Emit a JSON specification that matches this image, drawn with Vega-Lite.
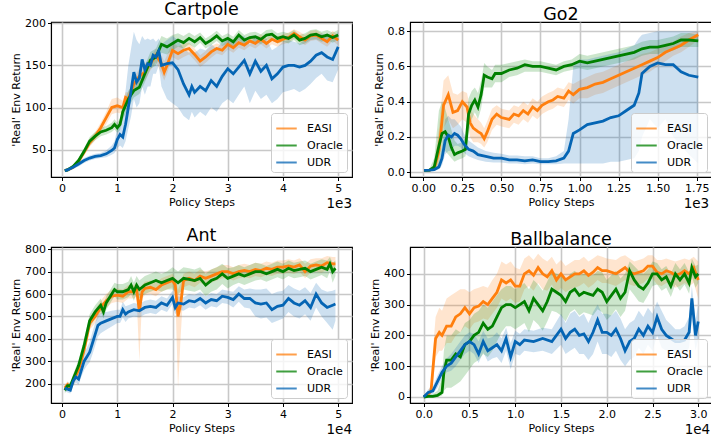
{
"$schema": "https://vega.github.io/schema/vega-lite/v6.json",
"padding": {"left": 9, "top": 0, "right": 0, "bottom": 0},
"config": {
  "font": "DejaVu Sans",
  "view": {"stroke": "black", "strokeWidth": 1.1},
  "axis": {"grid": true, "gridColor": "#c8c8c8", "gridWidth": 1.6, "domainColor": "black", "domainWidth": 1.1, "tickColor": "black", "tickSize": 3.5, "labelFontSize": 11, "labelColor": "black", "labelPadding": 2, "labelOverlap": false, "titleFontSize": 11, "titleFontWeight": "normal", "titleColor": "black", "titlePadding": 3},
  "legend": {"orient": "bottom-right", "offset": 5, "symbolType": "stroke", "symbolSize": 420, "symbolStrokeWidth": 2, "labelFontSize": 11, "labelColor": "black", "labelOffset": 9, "rowPadding": -4.5, "padding": 4, "strokeColor": "#cccccc", "fillColor": "rgba(255,255,255,0.8)", "cornerRadius": 3},
  "title": {"fontSize": 17.5, "fontWeight": "normal", "color": "black", "offset": -1}
},
"datasets": {
"t3": [{"t": "1e3"}],
"t4": [{"t": "1e4"}],
"cart": [
{"m":"EASI","x":0.05,"y":25,"lo":23,"hi":27},{"m":"EASI","x":0.1,"y":26,"lo":24,"hi":28},{"m":"EASI","x":0.2,"y":29,"lo":27,"hi":31},{"m":"EASI","x":0.3,"y":36,"lo":33,"hi":39},{"m":"EASI","x":0.4,"y":47,"lo":43,"hi":51},{"m":"EASI","x":0.5,"y":58,"lo":53,"hi":63},{"m":"EASI","x":0.6,"y":66,"lo":61,"hi":71},{"m":"EASI","x":0.7,"y":76,"lo":70,"hi":82},{"m":"EASI","x":0.8,"y":88,"lo":80,"hi":95},{"m":"EASI","x":0.9,"y":100,"lo":92,"hi":110},{"m":"EASI","x":1.0,"y":102,"lo":94,"hi":112},{"m":"EASI","x":1.1,"y":100,"lo":92,"hi":108},{"m":"EASI","x":1.15,"y":112,"lo":104,"hi":118},{"m":"EASI","x":1.2,"y":110,"lo":102,"hi":118},{"m":"EASI","x":1.3,"y":128,"lo":120,"hi":136},{"m":"EASI","x":1.4,"y":137,"lo":128,"hi":146},{"m":"EASI","x":1.5,"y":142,"lo":132,"hi":152},{"m":"EASI","x":1.6,"y":152,"lo":144,"hi":160},{"m":"EASI","x":1.7,"y":162,"lo":154,"hi":170},{"m":"EASI","x":1.8,"y":152,"lo":140,"hi":162},{"m":"EASI","x":1.85,"y":142,"lo":132,"hi":155},{"m":"EASI","x":1.9,"y":150,"lo":140,"hi":162},{"m":"EASI","x":2.0,"y":168,"lo":160,"hi":178},{"m":"EASI","x":2.1,"y":164,"lo":156,"hi":172},{"m":"EASI","x":2.2,"y":168,"lo":160,"hi":176},{"m":"EASI","x":2.3,"y":170,"lo":163,"hi":177},{"m":"EASI","x":2.4,"y":163,"lo":156,"hi":170},{"m":"EASI","x":2.5,"y":155,"lo":148,"hi":162},{"m":"EASI","x":2.6,"y":160,"lo":153,"hi":167},{"m":"EASI","x":2.7,"y":166,"lo":159,"hi":173},{"m":"EASI","x":2.8,"y":170,"lo":164,"hi":176},{"m":"EASI","x":2.9,"y":168,"lo":162,"hi":174},{"m":"EASI","x":3.0,"y":175,"lo":169,"hi":181},{"m":"EASI","x":3.1,"y":171,"lo":165,"hi":177},{"m":"EASI","x":3.2,"y":177,"lo":171,"hi":183},{"m":"EASI","x":3.3,"y":174,"lo":168,"hi":180},{"m":"EASI","x":3.4,"y":179,"lo":173,"hi":185},{"m":"EASI","x":3.5,"y":176,"lo":170,"hi":182},{"m":"EASI","x":3.6,"y":181,"lo":175,"hi":187},{"m":"EASI","x":3.7,"y":176,"lo":170,"hi":182},{"m":"EASI","x":3.8,"y":181,"lo":175,"hi":187},{"m":"EASI","x":3.9,"y":178,"lo":172,"hi":184},{"m":"EASI","x":4.0,"y":181,"lo":175,"hi":187},{"m":"EASI","x":4.1,"y":183,"lo":177,"hi":189},{"m":"EASI","x":4.2,"y":188,"lo":182,"hi":193},{"m":"EASI","x":4.3,"y":184,"lo":178,"hi":190},{"m":"EASI","x":4.4,"y":180,"lo":174,"hi":186},{"m":"EASI","x":4.5,"y":185,"lo":179,"hi":191},{"m":"EASI","x":4.6,"y":186,"lo":180,"hi":192},{"m":"EASI","x":4.7,"y":182,"lo":176,"hi":188},{"m":"EASI","x":4.8,"y":178,"lo":172,"hi":184},{"m":"EASI","x":4.9,"y":185,"lo":179,"hi":191},{"m":"EASI","x":5.0,"y":180,"lo":174,"hi":186},
{"m":"Oracle","x":0.05,"y":25,"lo":23,"hi":27},{"m":"Oracle","x":0.1,"y":26,"lo":24,"hi":28},{"m":"Oracle","x":0.2,"y":30,"lo":28,"hi":32},{"m":"Oracle","x":0.3,"y":37,"lo":34,"hi":40},{"m":"Oracle","x":0.4,"y":48,"lo":44,"hi":52},{"m":"Oracle","x":0.5,"y":60,"lo":55,"hi":65},{"m":"Oracle","x":0.6,"y":66,"lo":61,"hi":71},{"m":"Oracle","x":0.7,"y":71,"lo":66,"hi":76},{"m":"Oracle","x":0.8,"y":73,"lo":68,"hi":78},{"m":"Oracle","x":0.9,"y":76,"lo":71,"hi":82},{"m":"Oracle","x":0.95,"y":80,"lo":74,"hi":86},{"m":"Oracle","x":1.0,"y":76,"lo":70,"hi":82},{"m":"Oracle","x":1.05,"y":80,"lo":73,"hi":87},{"m":"Oracle","x":1.1,"y":95,"lo":86,"hi":104},{"m":"Oracle","x":1.2,"y":110,"lo":100,"hi":120},{"m":"Oracle","x":1.3,"y":120,"lo":112,"hi":128},{"m":"Oracle","x":1.4,"y":124,"lo":116,"hi":132},{"m":"Oracle","x":1.5,"y":140,"lo":130,"hi":150},{"m":"Oracle","x":1.6,"y":156,"lo":146,"hi":166},{"m":"Oracle","x":1.7,"y":160,"lo":150,"hi":170},{"m":"Oracle","x":1.8,"y":175,"lo":165,"hi":185},{"m":"Oracle","x":1.9,"y":172,"lo":163,"hi":182},{"m":"Oracle","x":2.0,"y":176,"lo":168,"hi":186},{"m":"Oracle","x":2.1,"y":180,"lo":172,"hi":188},{"m":"Oracle","x":2.2,"y":177,"lo":170,"hi":185},{"m":"Oracle","x":2.3,"y":182,"lo":175,"hi":189},{"m":"Oracle","x":2.4,"y":178,"lo":171,"hi":185},{"m":"Oracle","x":2.5,"y":183,"lo":177,"hi":189},{"m":"Oracle","x":2.6,"y":176,"lo":170,"hi":182},{"m":"Oracle","x":2.7,"y":180,"lo":174,"hi":186},{"m":"Oracle","x":2.8,"y":185,"lo":179,"hi":191},{"m":"Oracle","x":2.9,"y":179,"lo":173,"hi":185},{"m":"Oracle","x":3.0,"y":182,"lo":176,"hi":188},{"m":"Oracle","x":3.1,"y":178,"lo":172,"hi":184},{"m":"Oracle","x":3.2,"y":186,"lo":180,"hi":192},{"m":"Oracle","x":3.3,"y":180,"lo":174,"hi":186},{"m":"Oracle","x":3.4,"y":183,"lo":177,"hi":189},{"m":"Oracle","x":3.5,"y":184,"lo":178,"hi":190},{"m":"Oracle","x":3.6,"y":181,"lo":175,"hi":187},{"m":"Oracle","x":3.7,"y":186,"lo":180,"hi":192},{"m":"Oracle","x":3.8,"y":187,"lo":181,"hi":193},{"m":"Oracle","x":3.9,"y":182,"lo":176,"hi":188},{"m":"Oracle","x":4.0,"y":184,"lo":178,"hi":190},{"m":"Oracle","x":4.1,"y":182,"lo":176,"hi":188},{"m":"Oracle","x":4.2,"y":186,"lo":180,"hi":192},{"m":"Oracle","x":4.3,"y":180,"lo":174,"hi":186},{"m":"Oracle","x":4.4,"y":182,"lo":176,"hi":188},{"m":"Oracle","x":4.5,"y":186,"lo":180,"hi":192},{"m":"Oracle","x":4.6,"y":187,"lo":181,"hi":193},{"m":"Oracle","x":4.7,"y":184,"lo":178,"hi":190},{"m":"Oracle","x":4.8,"y":186,"lo":180,"hi":192},{"m":"Oracle","x":4.9,"y":183,"lo":177,"hi":189},{"m":"Oracle","x":5.0,"y":186,"lo":180,"hi":192},
{"m":"UDR","x":0.05,"y":25,"lo":23,"hi":27},{"m":"UDR","x":0.1,"y":26,"lo":24,"hi":28},{"m":"UDR","x":0.2,"y":29,"lo":27,"hi":31},{"m":"UDR","x":0.3,"y":33,"lo":30,"hi":36},{"m":"UDR","x":0.4,"y":37,"lo":34,"hi":40},{"m":"UDR","x":0.5,"y":40,"lo":37,"hi":43},{"m":"UDR","x":0.6,"y":42,"lo":39,"hi":45},{"m":"UDR","x":0.7,"y":43,"lo":40,"hi":46},{"m":"UDR","x":0.8,"y":45,"lo":41,"hi":49},{"m":"UDR","x":0.9,"y":49,"lo":44,"hi":55},{"m":"UDR","x":0.95,"y":52,"lo":46,"hi":60},{"m":"UDR","x":1.0,"y":62,"lo":52,"hi":75},{"m":"UDR","x":1.05,"y":68,"lo":55,"hi":85},{"m":"UDR","x":1.1,"y":65,"lo":52,"hi":95},{"m":"UDR","x":1.15,"y":80,"lo":60,"hi":120},{"m":"UDR","x":1.2,"y":100,"lo":75,"hi":150},{"m":"UDR","x":1.25,"y":120,"lo":90,"hi":170},{"m":"UDR","x":1.3,"y":142,"lo":110,"hi":190},{"m":"UDR","x":1.35,"y":130,"lo":100,"hi":180},{"m":"UDR","x":1.4,"y":135,"lo":105,"hi":175},{"m":"UDR","x":1.45,"y":157,"lo":125,"hi":185},{"m":"UDR","x":1.5,"y":145,"lo":115,"hi":180},{"m":"UDR","x":1.55,"y":152,"lo":125,"hi":182},{"m":"UDR","x":1.6,"y":150,"lo":125,"hi":180},{"m":"UDR","x":1.65,"y":162,"lo":140,"hi":182},{"m":"UDR","x":1.7,"y":160,"lo":140,"hi":178},{"m":"UDR","x":1.75,"y":167,"lo":150,"hi":182},{"m":"UDR","x":1.8,"y":150,"lo":125,"hi":175},{"m":"UDR","x":1.9,"y":152,"lo":110,"hi":180},{"m":"UDR","x":2.0,"y":153,"lo":105,"hi":185},{"m":"UDR","x":2.1,"y":145,"lo":100,"hi":180},{"m":"UDR","x":2.2,"y":128,"lo":90,"hi":170},{"m":"UDR","x":2.3,"y":115,"lo":85,"hi":165},{"m":"UDR","x":2.35,"y":125,"lo":95,"hi":168},{"m":"UDR","x":2.4,"y":118,"lo":88,"hi":165},{"m":"UDR","x":2.5,"y":125,"lo":95,"hi":170},{"m":"UDR","x":2.6,"y":120,"lo":90,"hi":168},{"m":"UDR","x":2.7,"y":132,"lo":100,"hi":175},{"m":"UDR","x":2.8,"y":125,"lo":95,"hi":170},{"m":"UDR","x":2.9,"y":137,"lo":105,"hi":178},{"m":"UDR","x":3.0,"y":146,"lo":110,"hi":182},{"m":"UDR","x":3.1,"y":140,"lo":105,"hi":178},{"m":"UDR","x":3.2,"y":148,"lo":115,"hi":183},{"m":"UDR","x":3.3,"y":156,"lo":125,"hi":185},{"m":"UDR","x":3.4,"y":140,"lo":105,"hi":175},{"m":"UDR","x":3.5,"y":155,"lo":120,"hi":185},{"m":"UDR","x":3.6,"y":143,"lo":110,"hi":178},{"m":"UDR","x":3.7,"y":150,"lo":115,"hi":182},{"m":"UDR","x":3.8,"y":134,"lo":105,"hi":168},{"m":"UDR","x":3.9,"y":140,"lo":110,"hi":172},{"m":"UDR","x":4.0,"y":148,"lo":118,"hi":178},{"m":"UDR","x":4.1,"y":150,"lo":120,"hi":180},{"m":"UDR","x":4.2,"y":150,"lo":122,"hi":178},{"m":"UDR","x":4.3,"y":148,"lo":118,"hi":176},{"m":"UDR","x":4.4,"y":150,"lo":122,"hi":180},{"m":"UDR","x":4.5,"y":155,"lo":128,"hi":183},{"m":"UDR","x":4.6,"y":162,"lo":135,"hi":185},{"m":"UDR","x":4.7,"y":165,"lo":140,"hi":188},{"m":"UDR","x":4.8,"y":160,"lo":132,"hi":185},{"m":"UDR","x":4.9,"y":157,"lo":130,"hi":183},{"m":"UDR","x":5.0,"y":172,"lo":145,"hi":190}
],
"go2": [
{"m":"EASI","x":0.005,"y":0.01,"lo":0.005,"hi":0.015},{"m":"EASI","x":0.04,"y":0.012,"lo":0.005,"hi":0.02},{"m":"EASI","x":0.07,"y":0.02,"lo":0.01,"hi":0.04},{"m":"EASI","x":0.1,"y":0.12,"lo":0.05,"hi":0.25},{"m":"EASI","x":0.13,"y":0.38,"lo":0.25,"hi":0.52},{"m":"EASI","x":0.16,"y":0.44,"lo":0.3,"hi":0.55},{"m":"EASI","x":0.19,"y":0.34,"lo":0.25,"hi":0.45},{"m":"EASI","x":0.22,"y":0.35,"lo":0.27,"hi":0.44},{"m":"EASI","x":0.25,"y":0.4,"lo":0.3,"hi":0.46},{"m":"EASI","x":0.28,"y":0.37,"lo":0.28,"hi":0.45},{"m":"EASI","x":0.3,"y":0.28,"lo":0.2,"hi":0.36},{"m":"EASI","x":0.32,"y":0.25,"lo":0.17,"hi":0.33},{"m":"EASI","x":0.35,"y":0.23,"lo":0.17,"hi":0.3},{"m":"EASI","x":0.37,"y":0.22,"lo":0.16,"hi":0.28},{"m":"EASI","x":0.39,"y":0.19,"lo":0.14,"hi":0.25},{"m":"EASI","x":0.41,"y":0.23,"lo":0.17,"hi":0.29},{"m":"EASI","x":0.44,"y":0.3,"lo":0.24,"hi":0.36},{"m":"EASI","x":0.47,"y":0.33,"lo":0.27,"hi":0.38},{"m":"EASI","x":0.5,"y":0.31,"lo":0.26,"hi":0.36},{"m":"EASI","x":0.55,"y":0.3,"lo":0.25,"hi":0.35},{"m":"EASI","x":0.58,"y":0.33,"lo":0.28,"hi":0.38},{"m":"EASI","x":0.61,"y":0.32,"lo":0.27,"hi":0.37},{"m":"EASI","x":0.64,"y":0.35,"lo":0.3,"hi":0.4},{"m":"EASI","x":0.67,"y":0.33,"lo":0.28,"hi":0.38},{"m":"EASI","x":0.7,"y":0.37,"lo":0.32,"hi":0.42},{"m":"EASI","x":0.73,"y":0.35,"lo":0.3,"hi":0.4},{"m":"EASI","x":0.76,"y":0.38,"lo":0.33,"hi":0.43},{"m":"EASI","x":0.8,"y":0.4,"lo":0.35,"hi":0.45},{"m":"EASI","x":0.83,"y":0.41,"lo":0.36,"hi":0.46},{"m":"EASI","x":0.86,"y":0.43,"lo":0.38,"hi":0.48},{"m":"EASI","x":0.9,"y":0.42,"lo":0.37,"hi":0.47},{"m":"EASI","x":0.93,"y":0.46,"lo":0.41,"hi":0.51},{"m":"EASI","x":0.96,"y":0.44,"lo":0.39,"hi":0.5},{"m":"EASI","x":1.0,"y":0.47,"lo":0.42,"hi":0.52},{"m":"EASI","x":1.05,"y":0.48,"lo":0.42,"hi":0.54},{"m":"EASI","x":1.1,"y":0.5,"lo":0.44,"hi":0.56},{"m":"EASI","x":1.15,"y":0.51,"lo":0.45,"hi":0.57},{"m":"EASI","x":1.2,"y":0.53,"lo":0.47,"hi":0.59},{"m":"EASI","x":1.25,"y":0.55,"lo":0.49,"hi":0.61},{"m":"EASI","x":1.3,"y":0.57,"lo":0.51,"hi":0.63},{"m":"EASI","x":1.35,"y":0.59,"lo":0.53,"hi":0.65},{"m":"EASI","x":1.4,"y":0.61,"lo":0.55,"hi":0.67},{"m":"EASI","x":1.45,"y":0.63,"lo":0.57,"hi":0.68},{"m":"EASI","x":1.5,"y":0.65,"lo":0.6,"hi":0.7},{"m":"EASI","x":1.55,"y":0.68,"lo":0.63,"hi":0.73},{"m":"EASI","x":1.6,"y":0.7,"lo":0.66,"hi":0.74},{"m":"EASI","x":1.65,"y":0.72,"lo":0.68,"hi":0.77},{"m":"EASI","x":1.7,"y":0.75,"lo":0.71,"hi":0.79},{"m":"EASI","x":1.76,"y":0.78,"lo":0.75,"hi":0.8},
{"m":"Oracle","x":0.005,"y":0.01,"lo":0.005,"hi":0.015},{"m":"Oracle","x":0.04,"y":0.012,"lo":0.005,"hi":0.02},{"m":"Oracle","x":0.07,"y":0.03,"lo":0.01,"hi":0.08},{"m":"Oracle","x":0.1,"y":0.15,"lo":0.05,"hi":0.35},{"m":"Oracle","x":0.12,"y":0.22,"lo":0.1,"hi":0.4},{"m":"Oracle","x":0.14,"y":0.23,"lo":0.12,"hi":0.36},{"m":"Oracle","x":0.16,"y":0.2,"lo":0.1,"hi":0.3},{"m":"Oracle","x":0.18,"y":0.14,"lo":0.08,"hi":0.24},{"m":"Oracle","x":0.2,"y":0.1,"lo":0.06,"hi":0.18},{"m":"Oracle","x":0.22,"y":0.11,"lo":0.07,"hi":0.16},{"m":"Oracle","x":0.25,"y":0.12,"lo":0.08,"hi":0.17},{"m":"Oracle","x":0.27,"y":0.13,"lo":0.09,"hi":0.2},{"m":"Oracle","x":0.29,"y":0.33,"lo":0.22,"hi":0.42},{"m":"Oracle","x":0.31,"y":0.38,"lo":0.3,"hi":0.46},{"m":"Oracle","x":0.33,"y":0.41,"lo":0.34,"hi":0.48},{"m":"Oracle","x":0.35,"y":0.37,"lo":0.3,"hi":0.45},{"m":"Oracle","x":0.37,"y":0.44,"lo":0.36,"hi":0.52},{"m":"Oracle","x":0.39,"y":0.55,"lo":0.48,"hi":0.62},{"m":"Oracle","x":0.41,"y":0.54,"lo":0.48,"hi":0.6},{"m":"Oracle","x":0.44,"y":0.53,"lo":0.48,"hi":0.58},{"m":"Oracle","x":0.46,"y":0.56,"lo":0.51,"hi":0.61},{"m":"Oracle","x":0.5,"y":0.56,"lo":0.51,"hi":0.61},{"m":"Oracle","x":0.55,"y":0.58,"lo":0.54,"hi":0.62},{"m":"Oracle","x":0.6,"y":0.59,"lo":0.55,"hi":0.63},{"m":"Oracle","x":0.65,"y":0.61,"lo":0.57,"hi":0.64},{"m":"Oracle","x":0.7,"y":0.6,"lo":0.57,"hi":0.63},{"m":"Oracle","x":0.75,"y":0.6,"lo":0.57,"hi":0.63},{"m":"Oracle","x":0.8,"y":0.59,"lo":0.56,"hi":0.62},{"m":"Oracle","x":0.85,"y":0.58,"lo":0.55,"hi":0.61},{"m":"Oracle","x":0.9,"y":0.6,"lo":0.57,"hi":0.63},{"m":"Oracle","x":0.95,"y":0.61,"lo":0.58,"hi":0.64},{"m":"Oracle","x":1.0,"y":0.63,"lo":0.59,"hi":0.67},{"m":"Oracle","x":1.05,"y":0.62,"lo":0.58,"hi":0.66},{"m":"Oracle","x":1.1,"y":0.63,"lo":0.59,"hi":0.67},{"m":"Oracle","x":1.15,"y":0.64,"lo":0.6,"hi":0.68},{"m":"Oracle","x":1.2,"y":0.65,"lo":0.61,"hi":0.69},{"m":"Oracle","x":1.25,"y":0.66,"lo":0.62,"hi":0.7},{"m":"Oracle","x":1.3,"y":0.67,"lo":0.63,"hi":0.71},{"m":"Oracle","x":1.35,"y":0.68,"lo":0.64,"hi":0.72},{"m":"Oracle","x":1.4,"y":0.7,"lo":0.66,"hi":0.74},{"m":"Oracle","x":1.45,"y":0.71,"lo":0.67,"hi":0.75},{"m":"Oracle","x":1.5,"y":0.71,"lo":0.67,"hi":0.75},{"m":"Oracle","x":1.55,"y":0.72,"lo":0.68,"hi":0.76},{"m":"Oracle","x":1.6,"y":0.73,"lo":0.69,"hi":0.77},{"m":"Oracle","x":1.65,"y":0.75,"lo":0.71,"hi":0.79},{"m":"Oracle","x":1.7,"y":0.75,"lo":0.71,"hi":0.79},{"m":"Oracle","x":1.76,"y":0.745,"lo":0.71,"hi":0.78},
{"m":"UDR","x":0.005,"y":0.01,"lo":0.005,"hi":0.015},{"m":"UDR","x":0.04,"y":0.012,"lo":0.005,"hi":0.02},{"m":"UDR","x":0.07,"y":0.015,"lo":0.008,"hi":0.025},{"m":"UDR","x":0.1,"y":0.03,"lo":0.015,"hi":0.05},{"m":"UDR","x":0.12,"y":0.08,"lo":0.04,"hi":0.15},{"m":"UDR","x":0.14,"y":0.18,"lo":0.1,"hi":0.3},{"m":"UDR","x":0.16,"y":0.21,"lo":0.12,"hi":0.32},{"m":"UDR","x":0.18,"y":0.2,"lo":0.12,"hi":0.3},{"m":"UDR","x":0.2,"y":0.22,"lo":0.15,"hi":0.3},{"m":"UDR","x":0.22,"y":0.21,"lo":0.15,"hi":0.28},{"m":"UDR","x":0.24,"y":0.19,"lo":0.14,"hi":0.26},{"m":"UDR","x":0.26,"y":0.16,"lo":0.11,"hi":0.22},{"m":"UDR","x":0.29,"y":0.13,"lo":0.09,"hi":0.18},{"m":"UDR","x":0.32,"y":0.12,"lo":0.08,"hi":0.16},{"m":"UDR","x":0.35,"y":0.1,"lo":0.07,"hi":0.14},{"m":"UDR","x":0.4,"y":0.09,"lo":0.06,"hi":0.12},{"m":"UDR","x":0.45,"y":0.08,"lo":0.055,"hi":0.11},{"m":"UDR","x":0.5,"y":0.08,"lo":0.055,"hi":0.105},{"m":"UDR","x":0.55,"y":0.07,"lo":0.05,"hi":0.095},{"m":"UDR","x":0.6,"y":0.07,"lo":0.05,"hi":0.095},{"m":"UDR","x":0.65,"y":0.065,"lo":0.045,"hi":0.09},{"m":"UDR","x":0.7,"y":0.07,"lo":0.05,"hi":0.09},{"m":"UDR","x":0.75,"y":0.06,"lo":0.045,"hi":0.08},{"m":"UDR","x":0.8,"y":0.06,"lo":0.045,"hi":0.08},{"m":"UDR","x":0.85,"y":0.065,"lo":0.045,"hi":0.09},{"m":"UDR","x":0.9,"y":0.08,"lo":0.05,"hi":0.12},{"m":"UDR","x":0.93,"y":0.12,"lo":0.05,"hi":0.3},{"m":"UDR","x":0.96,"y":0.22,"lo":0.05,"hi":0.6},{"m":"UDR","x":1.0,"y":0.24,"lo":0.05,"hi":0.64},{"m":"UDR","x":1.05,"y":0.27,"lo":0.05,"hi":0.64},{"m":"UDR","x":1.1,"y":0.28,"lo":0.05,"hi":0.65},{"m":"UDR","x":1.15,"y":0.29,"lo":0.05,"hi":0.66},{"m":"UDR","x":1.2,"y":0.31,"lo":0.06,"hi":0.67},{"m":"UDR","x":1.25,"y":0.32,"lo":0.06,"hi":0.68},{"m":"UDR","x":1.3,"y":0.35,"lo":0.07,"hi":0.7},{"m":"UDR","x":1.35,"y":0.38,"lo":0.08,"hi":0.72},{"m":"UDR","x":1.38,"y":0.45,"lo":0.12,"hi":0.76},{"m":"UDR","x":1.4,"y":0.56,"lo":0.2,"hi":0.78},{"m":"UDR","x":1.45,"y":0.6,"lo":0.3,"hi":0.79},{"m":"UDR","x":1.5,"y":0.62,"lo":0.25,"hi":0.8},{"m":"UDR","x":1.55,"y":0.61,"lo":0.3,"hi":0.8},{"m":"UDR","x":1.6,"y":0.61,"lo":0.2,"hi":0.8},{"m":"UDR","x":1.65,"y":0.57,"lo":0.15,"hi":0.8},{"m":"UDR","x":1.7,"y":0.55,"lo":0.1,"hi":0.8},{"m":"UDR","x":1.76,"y":0.54,"lo":0.05,"hi":0.8}
],
"ant": [
{"m":"EASI","x":0.05,"y":180,"lo":165,"hi":195},{"m":"EASI","x":0.1,"y":195,"lo":180,"hi":210},{"m":"EASI","x":0.15,"y":180,"lo":165,"hi":195},{"m":"EASI","x":0.2,"y":210,"lo":195,"hi":225},{"m":"EASI","x":0.3,"y":260,"lo":240,"hi":280},{"m":"EASI","x":0.4,"y":350,"lo":325,"hi":375},{"m":"EASI","x":0.5,"y":470,"lo":440,"hi":495},{"m":"EASI","x":0.6,"y":500,"lo":470,"hi":530},{"m":"EASI","x":0.7,"y":540,"lo":510,"hi":570},{"m":"EASI","x":0.8,"y":570,"lo":540,"hi":600},{"m":"EASI","x":0.9,"y":590,"lo":560,"hi":620},{"m":"EASI","x":1.0,"y":595,"lo":565,"hi":625},{"m":"EASI","x":1.1,"y":590,"lo":560,"hi":620},{"m":"EASI","x":1.2,"y":610,"lo":580,"hi":640},{"m":"EASI","x":1.3,"y":610,"lo":580,"hi":640},{"m":"EASI","x":1.35,"y":620,"lo":590,"hi":650},{"m":"EASI","x":1.4,"y":525,"lo":300,"hi":620},{"m":"EASI","x":1.45,"y":610,"lo":580,"hi":640},{"m":"EASI","x":1.5,"y":625,"lo":595,"hi":655},{"m":"EASI","x":1.6,"y":630,"lo":600,"hi":660},{"m":"EASI","x":1.7,"y":620,"lo":590,"hi":650},{"m":"EASI","x":1.8,"y":640,"lo":610,"hi":670},{"m":"EASI","x":1.9,"y":650,"lo":620,"hi":680},{"m":"EASI","x":2.0,"y":660,"lo":630,"hi":690},{"m":"EASI","x":2.05,"y":640,"lo":610,"hi":670},{"m":"EASI","x":2.1,"y":500,"lo":180,"hi":620},{"m":"EASI","x":2.15,"y":560,"lo":420,"hi":650},{"m":"EASI","x":2.2,"y":660,"lo":630,"hi":690},{"m":"EASI","x":2.3,"y":670,"lo":640,"hi":700},{"m":"EASI","x":2.4,"y":660,"lo":630,"hi":690},{"m":"EASI","x":2.5,"y":680,"lo":650,"hi":710},{"m":"EASI","x":2.6,"y":670,"lo":640,"hi":700},{"m":"EASI","x":2.7,"y":680,"lo":650,"hi":710},{"m":"EASI","x":2.8,"y":690,"lo":660,"hi":720},{"m":"EASI","x":2.9,"y":700,"lo":670,"hi":730},{"m":"EASI","x":3.0,"y":700,"lo":670,"hi":730},{"m":"EASI","x":3.1,"y":690,"lo":660,"hi":720},{"m":"EASI","x":3.2,"y":700,"lo":670,"hi":730},{"m":"EASI","x":3.3,"y":705,"lo":675,"hi":735},{"m":"EASI","x":3.4,"y":700,"lo":670,"hi":730},{"m":"EASI","x":3.5,"y":710,"lo":680,"hi":740},{"m":"EASI","x":3.6,"y":705,"lo":675,"hi":735},{"m":"EASI","x":3.7,"y":715,"lo":685,"hi":745},{"m":"EASI","x":3.8,"y":710,"lo":680,"hi":740},{"m":"EASI","x":3.9,"y":720,"lo":690,"hi":750},{"m":"EASI","x":4.0,"y":720,"lo":690,"hi":750},{"m":"EASI","x":4.1,"y":725,"lo":695,"hi":755},{"m":"EASI","x":4.2,"y":720,"lo":690,"hi":750},{"m":"EASI","x":4.3,"y":730,"lo":700,"hi":760},{"m":"EASI","x":4.4,"y":700,"lo":670,"hi":735},{"m":"EASI","x":4.5,"y":725,"lo":695,"hi":755},{"m":"EASI","x":4.6,"y":730,"lo":700,"hi":760},{"m":"EASI","x":4.7,"y":725,"lo":695,"hi":760},{"m":"EASI","x":4.8,"y":740,"lo":710,"hi":770},{"m":"EASI","x":4.9,"y":735,"lo":705,"hi":765},{"m":"EASI","x":4.95,"y":735,"lo":705,"hi":765},
{"m":"Oracle","x":0.05,"y":170,"lo":155,"hi":185},{"m":"Oracle","x":0.1,"y":190,"lo":175,"hi":205},{"m":"Oracle","x":0.15,"y":190,"lo":175,"hi":205},{"m":"Oracle","x":0.2,"y":220,"lo":200,"hi":240},{"m":"Oracle","x":0.3,"y":280,"lo":255,"hi":305},{"m":"Oracle","x":0.4,"y":370,"lo":340,"hi":400},{"m":"Oracle","x":0.5,"y":480,"lo":450,"hi":510},{"m":"Oracle","x":0.6,"y":520,"lo":490,"hi":550},{"m":"Oracle","x":0.7,"y":550,"lo":520,"hi":580},{"m":"Oracle","x":0.75,"y":520,"lo":490,"hi":550},{"m":"Oracle","x":0.8,"y":560,"lo":530,"hi":590},{"m":"Oracle","x":0.9,"y":600,"lo":570,"hi":630},{"m":"Oracle","x":0.95,"y":620,"lo":590,"hi":650},{"m":"Oracle","x":1.0,"y":610,"lo":575,"hi":645},{"m":"Oracle","x":1.1,"y":610,"lo":575,"hi":645},{"m":"Oracle","x":1.2,"y":620,"lo":585,"hi":655},{"m":"Oracle","x":1.25,"y":640,"lo":600,"hi":680},{"m":"Oracle","x":1.3,"y":610,"lo":570,"hi":650},{"m":"Oracle","x":1.35,"y":640,"lo":600,"hi":680},{"m":"Oracle","x":1.4,"y":620,"lo":580,"hi":660},{"m":"Oracle","x":1.5,"y":640,"lo":600,"hi":680},{"m":"Oracle","x":1.6,"y":650,"lo":610,"hi":690},{"m":"Oracle","x":1.7,"y":660,"lo":620,"hi":700},{"m":"Oracle","x":1.8,"y":650,"lo":610,"hi":690},{"m":"Oracle","x":1.9,"y":660,"lo":620,"hi":700},{"m":"Oracle","x":2.0,"y":670,"lo":620,"hi":720},{"m":"Oracle","x":2.1,"y":650,"lo":600,"hi":700},{"m":"Oracle","x":2.2,"y":670,"lo":620,"hi":720},{"m":"Oracle","x":2.3,"y":665,"lo":615,"hi":715},{"m":"Oracle","x":2.4,"y":660,"lo":610,"hi":710},{"m":"Oracle","x":2.5,"y":670,"lo":620,"hi":720},{"m":"Oracle","x":2.6,"y":640,"lo":590,"hi":690},{"m":"Oracle","x":2.7,"y":660,"lo":610,"hi":710},{"m":"Oracle","x":2.8,"y":670,"lo":620,"hi":720},{"m":"Oracle","x":2.9,"y":690,"lo":645,"hi":735},{"m":"Oracle","x":3.0,"y":670,"lo":625,"hi":715},{"m":"Oracle","x":3.1,"y":680,"lo":640,"hi":720},{"m":"Oracle","x":3.2,"y":690,"lo":650,"hi":730},{"m":"Oracle","x":3.3,"y":680,"lo":640,"hi":720},{"m":"Oracle","x":3.4,"y":690,"lo":650,"hi":730},{"m":"Oracle","x":3.5,"y":700,"lo":660,"hi":740},{"m":"Oracle","x":3.6,"y":700,"lo":665,"hi":735},{"m":"Oracle","x":3.7,"y":690,"lo":655,"hi":725},{"m":"Oracle","x":3.8,"y":700,"lo":665,"hi":735},{"m":"Oracle","x":3.9,"y":710,"lo":675,"hi":745},{"m":"Oracle","x":4.0,"y":700,"lo":665,"hi":735},{"m":"Oracle","x":4.1,"y":715,"lo":680,"hi":750},{"m":"Oracle","x":4.2,"y":705,"lo":670,"hi":740},{"m":"Oracle","x":4.3,"y":710,"lo":675,"hi":745},{"m":"Oracle","x":4.4,"y":715,"lo":680,"hi":750},{"m":"Oracle","x":4.5,"y":700,"lo":665,"hi":735},{"m":"Oracle","x":4.6,"y":710,"lo":675,"hi":745},{"m":"Oracle","x":4.7,"y":720,"lo":685,"hi":755},{"m":"Oracle","x":4.8,"y":710,"lo":670,"hi":750},{"m":"Oracle","x":4.85,"y":735,"lo":700,"hi":765},{"m":"Oracle","x":4.9,"y":700,"lo":650,"hi":740},{"m":"Oracle","x":4.95,"y":715,"lo":680,"hi":750},
{"m":"UDR","x":0.05,"y":180,"lo":165,"hi":195},{"m":"UDR","x":0.1,"y":175,"lo":160,"hi":190},{"m":"UDR","x":0.15,"y":170,"lo":155,"hi":185},{"m":"UDR","x":0.2,"y":210,"lo":190,"hi":230},{"m":"UDR","x":0.25,"y":230,"lo":205,"hi":255},{"m":"UDR","x":0.3,"y":220,"lo":195,"hi":245},{"m":"UDR","x":0.35,"y":260,"lo":230,"hi":290},{"m":"UDR","x":0.4,"y":300,"lo":260,"hi":340},{"m":"UDR","x":0.45,"y":320,"lo":280,"hi":360},{"m":"UDR","x":0.5,"y":340,"lo":295,"hi":385},{"m":"UDR","x":0.55,"y":380,"lo":330,"hi":430},{"m":"UDR","x":0.6,"y":420,"lo":370,"hi":470},{"m":"UDR","x":0.65,"y":460,"lo":410,"hi":510},{"m":"UDR","x":0.7,"y":470,"lo":425,"hi":515},{"m":"UDR","x":0.8,"y":480,"lo":440,"hi":520},{"m":"UDR","x":0.9,"y":490,"lo":455,"hi":525},{"m":"UDR","x":1.0,"y":500,"lo":470,"hi":530},{"m":"UDR","x":1.05,"y":500,"lo":470,"hi":530},{"m":"UDR","x":1.1,"y":530,"lo":495,"hi":565},{"m":"UDR","x":1.15,"y":510,"lo":475,"hi":545},{"m":"UDR","x":1.2,"y":520,"lo":490,"hi":550},{"m":"UDR","x":1.3,"y":530,"lo":500,"hi":560},{"m":"UDR","x":1.4,"y":525,"lo":495,"hi":555},{"m":"UDR","x":1.5,"y":540,"lo":510,"hi":570},{"m":"UDR","x":1.6,"y":545,"lo":515,"hi":575},{"m":"UDR","x":1.7,"y":540,"lo":510,"hi":570},{"m":"UDR","x":1.8,"y":560,"lo":530,"hi":590},{"m":"UDR","x":1.9,"y":550,"lo":520,"hi":580},{"m":"UDR","x":2.0,"y":585,"lo":555,"hi":615},{"m":"UDR","x":2.05,"y":540,"lo":510,"hi":570},{"m":"UDR","x":2.1,"y":560,"lo":530,"hi":590},{"m":"UDR","x":2.2,"y":555,"lo":525,"hi":585},{"m":"UDR","x":2.3,"y":570,"lo":540,"hi":600},{"m":"UDR","x":2.4,"y":565,"lo":535,"hi":595},{"m":"UDR","x":2.5,"y":580,"lo":550,"hi":610},{"m":"UDR","x":2.6,"y":560,"lo":530,"hi":590},{"m":"UDR","x":2.7,"y":575,"lo":545,"hi":605},{"m":"UDR","x":2.8,"y":570,"lo":540,"hi":600},{"m":"UDR","x":2.9,"y":590,"lo":560,"hi":620},{"m":"UDR","x":3.0,"y":585,"lo":555,"hi":615},{"m":"UDR","x":3.1,"y":575,"lo":540,"hi":610},{"m":"UDR","x":3.2,"y":600,"lo":565,"hi":635},{"m":"UDR","x":3.3,"y":580,"lo":540,"hi":620},{"m":"UDR","x":3.4,"y":580,"lo":535,"hi":625},{"m":"UDR","x":3.5,"y":560,"lo":500,"hi":620},{"m":"UDR","x":3.6,"y":555,"lo":490,"hi":620},{"m":"UDR","x":3.7,"y":560,"lo":495,"hi":625},{"m":"UDR","x":3.8,"y":530,"lo":470,"hi":600},{"m":"UDR","x":3.9,"y":545,"lo":480,"hi":610},{"m":"UDR","x":4.0,"y":550,"lo":490,"hi":615},{"m":"UDR","x":4.1,"y":580,"lo":520,"hi":640},{"m":"UDR","x":4.2,"y":560,"lo":500,"hi":625},{"m":"UDR","x":4.3,"y":550,"lo":490,"hi":615},{"m":"UDR","x":4.4,"y":570,"lo":510,"hi":630},{"m":"UDR","x":4.5,"y":540,"lo":480,"hi":605},{"m":"UDR","x":4.6,"y":600,"lo":540,"hi":650},{"m":"UDR","x":4.7,"y":560,"lo":500,"hi":620},{"m":"UDR","x":4.8,"y":540,"lo":470,"hi":610},{"m":"UDR","x":4.9,"y":550,"lo":440,"hi":615},{"m":"UDR","x":4.95,"y":555,"lo":480,"hi":620}
],
"bb": [
{"m":"EASI","x":0.0,"y":0,"lo":0,"hi":5},{"m":"EASI","x":0.05,"y":10,"lo":5,"hi":20},{"m":"EASI","x":0.08,"y":20,"lo":10,"hi":40},{"m":"EASI","x":0.1,"y":90,"lo":40,"hi":150},{"m":"EASI","x":0.13,"y":190,"lo":130,"hi":260},{"m":"EASI","x":0.17,"y":210,"lo":150,"hi":290},{"m":"EASI","x":0.2,"y":200,"lo":150,"hi":280},{"m":"EASI","x":0.25,"y":230,"lo":175,"hi":320},{"m":"EASI","x":0.3,"y":230,"lo":175,"hi":330},{"m":"EASI","x":0.35,"y":260,"lo":200,"hi":340},{"m":"EASI","x":0.4,"y":270,"lo":210,"hi":350},{"m":"EASI","x":0.45,"y":290,"lo":230,"hi":350},{"m":"EASI","x":0.5,"y":270,"lo":220,"hi":340},{"m":"EASI","x":0.55,"y":290,"lo":240,"hi":350},{"m":"EASI","x":0.6,"y":295,"lo":245,"hi":355},{"m":"EASI","x":0.65,"y":310,"lo":255,"hi":360},{"m":"EASI","x":0.7,"y":300,"lo":250,"hi":355},{"m":"EASI","x":0.75,"y":320,"lo":270,"hi":380},{"m":"EASI","x":0.8,"y":340,"lo":290,"hi":400},{"m":"EASI","x":0.85,"y":380,"lo":320,"hi":440},{"m":"EASI","x":0.9,"y":370,"lo":310,"hi":430},{"m":"EASI","x":0.95,"y":380,"lo":320,"hi":440},{"m":"EASI","x":1.0,"y":360,"lo":305,"hi":420},{"m":"EASI","x":1.05,"y":360,"lo":310,"hi":415},{"m":"EASI","x":1.1,"y":400,"lo":350,"hi":450},{"m":"EASI","x":1.15,"y":410,"lo":360,"hi":460},{"m":"EASI","x":1.2,"y":395,"lo":345,"hi":445},{"m":"EASI","x":1.25,"y":420,"lo":370,"hi":465},{"m":"EASI","x":1.3,"y":400,"lo":350,"hi":450},{"m":"EASI","x":1.35,"y":390,"lo":345,"hi":440},{"m":"EASI","x":1.4,"y":410,"lo":365,"hi":455},{"m":"EASI","x":1.45,"y":380,"lo":335,"hi":430},{"m":"EASI","x":1.5,"y":400,"lo":355,"hi":445},{"m":"EASI","x":1.55,"y":380,"lo":340,"hi":425},{"m":"EASI","x":1.6,"y":390,"lo":350,"hi":435},{"m":"EASI","x":1.65,"y":400,"lo":355,"hi":445},{"m":"EASI","x":1.7,"y":400,"lo":360,"hi":445},{"m":"EASI","x":1.75,"y":410,"lo":370,"hi":455},{"m":"EASI","x":1.8,"y":395,"lo":355,"hi":440},{"m":"EASI","x":1.85,"y":405,"lo":365,"hi":450},{"m":"EASI","x":1.9,"y":420,"lo":380,"hi":460},{"m":"EASI","x":1.95,"y":410,"lo":370,"hi":455},{"m":"EASI","x":2.0,"y":410,"lo":370,"hi":450},{"m":"EASI","x":2.1,"y":400,"lo":360,"hi":445},{"m":"EASI","x":2.15,"y":410,"lo":370,"hi":455},{"m":"EASI","x":2.2,"y":420,"lo":380,"hi":460},{"m":"EASI","x":2.25,"y":405,"lo":365,"hi":450},{"m":"EASI","x":2.3,"y":400,"lo":360,"hi":440},{"m":"EASI","x":2.4,"y":410,"lo":370,"hi":450},{"m":"EASI","x":2.45,"y":425,"lo":385,"hi":460},{"m":"EASI","x":2.5,"y":425,"lo":385,"hi":460},{"m":"EASI","x":2.55,"y":405,"lo":365,"hi":445},{"m":"EASI","x":2.6,"y":400,"lo":360,"hi":445},{"m":"EASI","x":2.65,"y":410,"lo":370,"hi":450},{"m":"EASI","x":2.7,"y":405,"lo":365,"hi":445},{"m":"EASI","x":2.75,"y":395,"lo":355,"hi":440},{"m":"EASI","x":2.8,"y":400,"lo":360,"hi":445},{"m":"EASI","x":2.85,"y":410,"lo":370,"hi":450},{"m":"EASI","x":2.9,"y":400,"lo":360,"hi":445},{"m":"EASI","x":2.95,"y":420,"lo":370,"hi":455},{"m":"EASI","x":3.0,"y":380,"lo":320,"hi":440},
{"m":"Oracle","x":0.0,"y":0,"lo":0,"hi":5},{"m":"Oracle","x":0.05,"y":2,"lo":0,"hi":8},{"m":"Oracle","x":0.1,"y":2,"lo":0,"hi":10},{"m":"Oracle","x":0.15,"y":5,"lo":0,"hi":20},{"m":"Oracle","x":0.2,"y":15,"lo":5,"hi":60},{"m":"Oracle","x":0.22,"y":80,"lo":20,"hi":150},{"m":"Oracle","x":0.25,"y":120,"lo":30,"hi":200},{"m":"Oracle","x":0.3,"y":120,"lo":30,"hi":200},{"m":"Oracle","x":0.35,"y":140,"lo":40,"hi":220},{"m":"Oracle","x":0.4,"y":130,"lo":50,"hi":210},{"m":"Oracle","x":0.45,"y":170,"lo":70,"hi":240},{"m":"Oracle","x":0.5,"y":180,"lo":90,"hi":250},{"m":"Oracle","x":0.55,"y":200,"lo":110,"hi":270},{"m":"Oracle","x":0.6,"y":210,"lo":120,"hi":280},{"m":"Oracle","x":0.65,"y":240,"lo":140,"hi":300},{"m":"Oracle","x":0.7,"y":220,"lo":130,"hi":290},{"m":"Oracle","x":0.75,"y":230,"lo":150,"hi":310},{"m":"Oracle","x":0.8,"y":260,"lo":180,"hi":330},{"m":"Oracle","x":0.85,"y":290,"lo":210,"hi":350},{"m":"Oracle","x":0.9,"y":300,"lo":230,"hi":360},{"m":"Oracle","x":0.95,"y":300,"lo":230,"hi":360},{"m":"Oracle","x":1.0,"y":290,"lo":220,"hi":350},{"m":"Oracle","x":1.05,"y":300,"lo":230,"hi":360},{"m":"Oracle","x":1.1,"y":310,"lo":240,"hi":370},{"m":"Oracle","x":1.15,"y":280,"lo":210,"hi":350},{"m":"Oracle","x":1.2,"y":320,"lo":250,"hi":380},{"m":"Oracle","x":1.25,"y":300,"lo":235,"hi":365},{"m":"Oracle","x":1.3,"y":280,"lo":215,"hi":345},{"m":"Oracle","x":1.35,"y":310,"lo":245,"hi":375},{"m":"Oracle","x":1.4,"y":350,"lo":280,"hi":410},{"m":"Oracle","x":1.45,"y":340,"lo":275,"hi":400},{"m":"Oracle","x":1.5,"y":330,"lo":265,"hi":395},{"m":"Oracle","x":1.55,"y":310,"lo":245,"hi":375},{"m":"Oracle","x":1.6,"y":340,"lo":275,"hi":400},{"m":"Oracle","x":1.65,"y":350,"lo":285,"hi":410},{"m":"Oracle","x":1.7,"y":330,"lo":265,"hi":395},{"m":"Oracle","x":1.75,"y":340,"lo":275,"hi":400},{"m":"Oracle","x":1.8,"y":335,"lo":270,"hi":400},{"m":"Oracle","x":1.85,"y":330,"lo":265,"hi":395},{"m":"Oracle","x":1.9,"y":350,"lo":285,"hi":410},{"m":"Oracle","x":1.95,"y":340,"lo":275,"hi":405},{"m":"Oracle","x":2.0,"y":310,"lo":250,"hi":380},{"m":"Oracle","x":2.05,"y":330,"lo":265,"hi":395},{"m":"Oracle","x":2.1,"y":350,"lo":285,"hi":410},{"m":"Oracle","x":2.15,"y":320,"lo":260,"hi":385},{"m":"Oracle","x":2.2,"y":340,"lo":280,"hi":400},{"m":"Oracle","x":2.25,"y":410,"lo":350,"hi":440},{"m":"Oracle","x":2.3,"y":380,"lo":330,"hi":425},{"m":"Oracle","x":2.35,"y":360,"lo":310,"hi":410},{"m":"Oracle","x":2.4,"y":350,"lo":305,"hi":400},{"m":"Oracle","x":2.45,"y":370,"lo":330,"hi":415},{"m":"Oracle","x":2.5,"y":400,"lo":360,"hi":440},{"m":"Oracle","x":2.55,"y":400,"lo":365,"hi":435},{"m":"Oracle","x":2.6,"y":380,"lo":345,"hi":415},{"m":"Oracle","x":2.65,"y":390,"lo":355,"hi":425},{"m":"Oracle","x":2.7,"y":360,"lo":325,"hi":400},{"m":"Oracle","x":2.75,"y":400,"lo":365,"hi":435},{"m":"Oracle","x":2.8,"y":380,"lo":345,"hi":415},{"m":"Oracle","x":2.85,"y":400,"lo":365,"hi":435},{"m":"Oracle","x":2.9,"y":370,"lo":335,"hi":405},{"m":"Oracle","x":2.93,"y":420,"lo":390,"hi":450},{"m":"Oracle","x":2.97,"y":390,"lo":355,"hi":425},{"m":"Oracle","x":3.0,"y":400,"lo":370,"hi":430},
{"m":"UDR","x":0.0,"y":0,"lo":0,"hi":5},{"m":"UDR","x":0.05,"y":15,"lo":5,"hi":25},{"m":"UDR","x":0.1,"y":20,"lo":10,"hi":35},{"m":"UDR","x":0.15,"y":50,"lo":30,"hi":70},{"m":"UDR","x":0.2,"y":80,"lo":60,"hi":100},{"m":"UDR","x":0.25,"y":100,"lo":80,"hi":125},{"m":"UDR","x":0.3,"y":110,"lo":85,"hi":140},{"m":"UDR","x":0.35,"y":130,"lo":100,"hi":160},{"m":"UDR","x":0.4,"y":150,"lo":120,"hi":180},{"m":"UDR","x":0.45,"y":170,"lo":140,"hi":200},{"m":"UDR","x":0.5,"y":180,"lo":150,"hi":210},{"m":"UDR","x":0.55,"y":170,"lo":140,"hi":205},{"m":"UDR","x":0.6,"y":140,"lo":110,"hi":180},{"m":"UDR","x":0.65,"y":180,"lo":145,"hi":215},{"m":"UDR","x":0.7,"y":150,"lo":115,"hi":190},{"m":"UDR","x":0.75,"y":160,"lo":125,"hi":195},{"m":"UDR","x":0.8,"y":170,"lo":130,"hi":210},{"m":"UDR","x":0.85,"y":150,"lo":110,"hi":190},{"m":"UDR","x":0.9,"y":190,"lo":150,"hi":225},{"m":"UDR","x":0.95,"y":130,"lo":90,"hi":175},{"m":"UDR","x":1.0,"y":180,"lo":140,"hi":215},{"m":"UDR","x":1.05,"y":170,"lo":135,"hi":205},{"m":"UDR","x":1.1,"y":185,"lo":150,"hi":220},{"m":"UDR","x":1.2,"y":180,"lo":145,"hi":215},{"m":"UDR","x":1.3,"y":190,"lo":150,"hi":225},{"m":"UDR","x":1.4,"y":180,"lo":140,"hi":220},{"m":"UDR","x":1.5,"y":220,"lo":170,"hi":270},{"m":"UDR","x":1.55,"y":190,"lo":140,"hi":240},{"m":"UDR","x":1.6,"y":210,"lo":150,"hi":270},{"m":"UDR","x":1.65,"y":220,"lo":160,"hi":280},{"m":"UDR","x":1.7,"y":200,"lo":140,"hi":260},{"m":"UDR","x":1.75,"y":205,"lo":140,"hi":270},{"m":"UDR","x":1.8,"y":180,"lo":120,"hi":240},{"m":"UDR","x":1.85,"y":210,"lo":140,"hi":275},{"m":"UDR","x":1.9,"y":250,"lo":180,"hi":300},{"m":"UDR","x":1.95,"y":210,"lo":140,"hi":270},{"m":"UDR","x":2.0,"y":210,"lo":140,"hi":270},{"m":"UDR","x":2.05,"y":200,"lo":130,"hi":265},{"m":"UDR","x":2.1,"y":220,"lo":150,"hi":280},{"m":"UDR","x":2.15,"y":190,"lo":120,"hi":255},{"m":"UDR","x":2.2,"y":150,"lo":100,"hi":220},{"m":"UDR","x":2.25,"y":180,"lo":120,"hi":240},{"m":"UDR","x":2.3,"y":190,"lo":130,"hi":250},{"m":"UDR","x":2.35,"y":220,"lo":160,"hi":280},{"m":"UDR","x":2.4,"y":200,"lo":140,"hi":260},{"m":"UDR","x":2.45,"y":230,"lo":170,"hi":290},{"m":"UDR","x":2.5,"y":210,"lo":150,"hi":270},{"m":"UDR","x":2.55,"y":260,"lo":200,"hi":310},{"m":"UDR","x":2.6,"y":220,"lo":160,"hi":280},{"m":"UDR","x":2.65,"y":200,"lo":150,"hi":250},{"m":"UDR","x":2.7,"y":190,"lo":150,"hi":235},{"m":"UDR","x":2.75,"y":180,"lo":140,"hi":220},{"m":"UDR","x":2.8,"y":180,"lo":140,"hi":220},{"m":"UDR","x":2.85,"y":185,"lo":140,"hi":230},{"m":"UDR","x":2.9,"y":210,"lo":160,"hi":260},{"m":"UDR","x":2.93,"y":320,"lo":250,"hi":360},{"m":"UDR","x":2.97,"y":200,"lo":150,"hi":250},{"m":"UDR","x":3.0,"y":245,"lo":190,"hi":300}
]
},
"columns": 2,
"bounds": "flush",
"spacing": {"row": 70, "column": 58},
"resolve": {"scale": {"color": "independent"}},
"concat": [
{
 "title": "Cartpole", "width": 301, "height": 155,
 "layer": [
  {"data": {"name": "cart"}, "mark": {"type": "area", "opacity": 0.2}, "encoding": {"x": {"field": "x", "type": "quantitative", "title": "Policy Steps", "scale": {"domain": [-0.2, 5.25], "nice": false, "zero": false}, "axis": {"values": [0,1,2,3,4,5], "tickCount": 30, "format": "d", "labelOverlap": false}}, "y": {"field": "lo", "type": "quantitative", "title": "'Real' Env Return", "scale": {"domain": [17.5, 201.5], "nice": false, "zero": false}, "axis": {"values": [50,100,150,200], "tickCount": 30, "labelOverlap": false}}, "y2": {"field": "hi"}, "color": {"field": "m", "type": "nominal", "scale": {"domain": ["EASI","Oracle","UDR"], "range": ["#ff7f0e","#008000","#0565b4"]}, "title": null, "legend": {"symbolOpacity": 0.75}}}},
  {"data": {"name": "cart"}, "mark": {"type": "line", "strokeWidth": 2.8}, "encoding": {"x": {"field": "x", "type": "quantitative", "title": "Policy Steps"}, "y": {"field": "y", "type": "quantitative", "title": "'Real' Env Return"}, "color": {"field": "m", "type": "nominal", "title": null}}},
  {"data": {"name": "t3"}, "mark": {"type": "text", "align": "right", "baseline": "top", "dy": 19.5, "fontSize": 13.5, "color": "black", "clip": false}, "encoding": {"text": {"field": "t"}, "x": {"datum": 5.25}, "y": {"datum": 17.5}}}
 ]
},
{
 "title": "Go2", "width": 302, "height": 155,
 "layer": [
  {"data": {"name": "go2"}, "mark": {"type": "area", "opacity": 0.2}, "encoding": {"x": {"field": "x", "type": "quantitative", "title": "Policy Steps", "scale": {"domain": [-0.085, 1.848], "nice": false, "zero": false}, "axis": {"values": [0,0.25,0.5,0.75,1,1.25,1.5,1.75], "tickCount": 30, "format": ".2f", "labelOverlap": false}}, "y": {"field": "lo", "type": "quantitative", "title": "'Real' Env Return", "scale": {"domain": [-0.027, 0.852], "nice": false, "zero": false}, "axis": {"values": [0,0.2,0.4,0.6,0.8], "tickCount": 30, "format": ".1f", "labelOverlap": false}}, "y2": {"field": "hi"}, "color": {"field": "m", "type": "nominal", "scale": {"domain": ["EASI","Oracle","UDR"], "range": ["#ff7f0e","#008000","#0565b4"]}, "title": null, "legend": {"symbolOpacity": 0.75}}}},
  {"data": {"name": "go2"}, "mark": {"type": "line", "strokeWidth": 2.8}, "encoding": {"x": {"field": "x", "type": "quantitative", "title": "Policy Steps"}, "y": {"field": "y", "type": "quantitative", "title": "'Real' Env Return"}, "color": {"field": "m", "type": "nominal", "title": null}}},
  {"data": {"name": "t3"}, "mark": {"type": "text", "align": "right", "baseline": "top", "dy": 19.5, "fontSize": 13.5, "color": "black", "clip": false}, "encoding": {"text": {"field": "t"}, "x": {"datum": 1.83}, "y": {"datum": -0.027}}}
 ]
},
{
 "title": "Ant", "width": 301, "height": 156,
 "layer": [
  {"data": {"name": "ant"}, "mark": {"type": "area", "opacity": 0.2}, "encoding": {"x": {"field": "x", "type": "quantitative", "title": "Policy Steps", "scale": {"domain": [-0.2, 5.25], "nice": false, "zero": false}, "axis": {"values": [0,1,2,3,4,5], "tickCount": 30, "format": "d", "labelOverlap": false}}, "y": {"field": "lo", "type": "quantitative", "title": "'Real' Env Return", "scale": {"domain": [113, 810], "nice": false, "zero": false}, "axis": {"values": [200,300,400,500,600,700,800], "tickCount": 30, "labelOverlap": false}}, "y2": {"field": "hi"}, "color": {"field": "m", "type": "nominal", "scale": {"domain": ["EASI","Oracle","UDR"], "range": ["#ff7f0e","#008000","#0565b4"]}, "title": null, "legend": {"symbolOpacity": 0.75}}}},
  {"data": {"name": "ant"}, "mark": {"type": "line", "strokeWidth": 2.8}, "encoding": {"x": {"field": "x", "type": "quantitative", "title": "Policy Steps"}, "y": {"field": "y", "type": "quantitative", "title": "'Real' Env Return"}, "color": {"field": "m", "type": "nominal", "title": null}}},
  {"data": {"name": "t4"}, "mark": {"type": "text", "align": "right", "baseline": "top", "dy": 19.5, "fontSize": 13.5, "color": "black", "clip": false}, "encoding": {"text": {"field": "t"}, "x": {"datum": 5.25}, "y": {"datum": 113}}}
 ]
},
{
 "title": "Ballbalance", "width": 302, "height": 156,
 "layer": [
  {"data": {"name": "bb"}, "mark": {"type": "area", "opacity": 0.2}, "encoding": {"x": {"field": "x", "type": "quantitative", "title": "Policy Steps", "scale": {"domain": [-0.15, 3.15], "nice": false, "zero": false}, "axis": {"values": [0,0.5,1,1.5,2,2.5,3], "tickCount": 30, "format": ".1f", "labelOverlap": false}}, "y": {"field": "lo", "type": "quantitative", "title": "'Real' Env Return", "scale": {"domain": [-19.5, 487], "nice": false, "zero": false}, "axis": {"values": [0,100,200,300,400], "tickCount": 30, "labelOverlap": false}}, "y2": {"field": "hi"}, "color": {"field": "m", "type": "nominal", "scale": {"domain": ["EASI","Oracle","UDR"], "range": ["#ff7f0e","#008000","#0565b4"]}, "title": null, "legend": {"symbolOpacity": 0.75}}}},
  {"data": {"name": "bb"}, "mark": {"type": "line", "strokeWidth": 2.8}, "encoding": {"x": {"field": "x", "type": "quantitative", "title": "Policy Steps"}, "y": {"field": "y", "type": "quantitative", "title": "'Real' Env Return"}, "color": {"field": "m", "type": "nominal", "title": null}}},
  {"data": {"name": "t4"}, "mark": {"type": "text", "align": "right", "baseline": "top", "dy": 19.5, "fontSize": 13.5, "color": "black", "clip": false}, "encoding": {"text": {"field": "t"}, "x": {"datum": 3.13}, "y": {"datum": -19.5}}}
 ]
}
]
}
